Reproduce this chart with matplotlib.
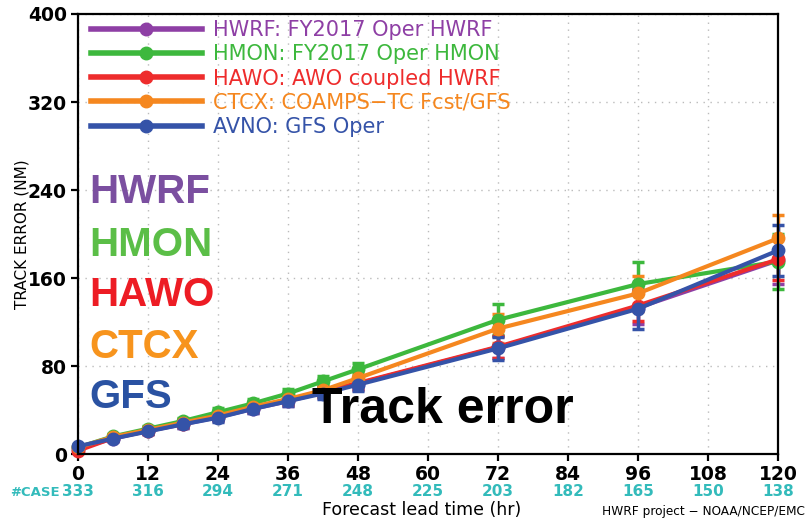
import matplotlib
matplotlib.use("Agg")
import matplotlib.pyplot as plt
from matplotlib.lines import Line2D

# Forecast lead times (hr) and verification sample sizes
hours = [0, 6, 12, 18, 24, 30, 36, 42, 48, 72, 96, 120]
case_hours = [0, 12, 24, 36, 48, 60, 72, 84, 96, 108, 120]
case_counts = [333, 316, 294, 271, 248, 225, 203, 182, 165, 150, 138]

# Mean track error (NM) per model
hwrf = [5, 14, 21, 27, 33.5, 41, 48, 56, 64, 97, 133, 176]
hmon = [6, 16, 23, 30, 38, 46, 55, 66, 77, 122, 154.5, 175]
hawo = [3, 14.5, 21, 27.5, 34, 42, 49, 57, 64.5, 97.5, 135, 177]
ctcx = [6, 15.5, 22, 28.5, 35, 43, 50, 58, 69, 114, 146, 196]
avno = [7, 14, 20.5, 27, 33, 41, 48, 55, 63, 96, 132, 185]

# Confidence-interval half widths (NM)
hwrf_ci = [1, 2, 2.5, 3, 3.5, 4, 4.5, 5, 5.5, 10, 15, 21]
hmon_ci = [1, 2, 2.5, 3, 3.5, 4, 4.5, 5, 5.5, 14, 20.5, 25]
hawo_ci = [1, 2, 2.5, 3, 3.5, 4, 4.5, 5, 5.5, 10, 14, 19]
ctcx_ci = [1, 2, 2.5, 3, 3.5, 4, 4.5, 5, 5.5, 13, 16, 21]
avno_ci = [1, 2, 2.5, 3, 3.5, 4, 4.5, 5, 5.5, 10.5, 18, 23]

labels = ["HWRF: FY2017 Oper HWRF", "HMON: FY2017 Oper HMON",
          "HAWO: AWO coupled HWRF", "CTCX: COAMPS\u2212TC Fcst/GFS",
          "AVNO: GFS Oper"]
short_names = ["HWRF", "HMON", "HAWO", "CTCX", "GFS"]
line_colors = ["#8E3FA5", "#3DB83D", "#EE2C2C", "#F5871F", "#3553A8"]
name_colors = ["#7B4FA0", "#5BBE47", "#ED1C24", "#F7941D", "#2A52A2"]

series = [hwrf, hmon, hawo, ctcx, avno]
errors = [hwrf_ci, hmon_ci, hawo_ci, ctcx_ci, avno_ci]

W, H = 809, 522
fig = plt.figure(figsize=(W / 100, H / 100), dpi=100)
ax = fig.add_axes([78 / W, 1 - 454 / H, 700 / W, 440 / H])

for vals, err, col in zip(series, errors, line_colors):
    ax.errorbar(hours, vals, yerr=err, color=col, lw=3, marker="o", ms=9,
                capsize=4.5, capthick=2.5, elinewidth=2.5, clip_on=False)

ax.set_xlim(0, 120)
ax.set_ylim(0, 400)
ax.set_xticks(range(0, 121, 12))
ax.set_yticks(range(0, 401, 80))
ax.grid(True, color="#bbbbbb", lw=1, linestyle=(0, (1, 4)))
ax.set_axisbelow(True)
for sp in ax.spines.values():
    sp.set_linewidth(1.6)
ax.tick_params(direction="out", length=5, width=1.6, labelsize=13.5, pad=3)
for lbl in ax.get_xticklabels() + ax.get_yticklabels():
    lbl.set_fontweight("bold")

# Legend
handles = [Line2D([0], [0], color=c, lw=4, marker="o", ms=9) for c in line_colors]
leg = ax.legend(handles, labels, loc="upper left", bbox_to_anchor=(0.01, 1.0),
                frameon=False, fontsize=15, handlelength=5.3, handletextpad=0.55,
                labelspacing=0.2, borderaxespad=0.15, borderpad=0.15,
                labelcolor=line_colors)

# Large model names
name_y = [192, 245, 295, 347, 397]
for name, col, yp in zip(short_names, name_colors, name_y):
    fig.text(89 / W, 1 - yp / H, name, color=col, fontsize=29, fontweight="bold",
             family="Liberation Sans", va="center", ha="left")

fig.text(312 / W, 1 - 410 / H, "Track error", color="black", fontsize=36,
         fontweight="bold", family="Liberation Sans", va="center", ha="left")

# Axis titles
fig.text(22 / W, 1 - 234 / H, "TRACK ERROR (NM)", rotation=90, fontsize=11,
         va="center", ha="center")
fig.text(422 / W, 1 - 510 / H, "Forecast lead time (hr)", fontsize=12.5,
         va="center", ha="center")
fig.text(805 / W, 1 - 512 / H, "HWRF project \u2212 NOAA/NCEP/EMC", fontsize=8.7,
         va="center", ha="right")

# Sample sizes beneath the x axis
case_col = "#33BBBB"
trans = ax.get_xaxis_transform()
for h, n in zip(case_hours, case_counts):
    ax.text(h, -0.0857, str(n), transform=trans, color=case_col, fontsize=11,
            fontweight="bold", ha="center", va="center")
fig.text(60 / W, 1 - 492 / H, "#CASE", color=case_col, fontsize=9.5,
         fontweight="bold", ha="right", va="center")

fig.savefig("out.png", dpi=100)
